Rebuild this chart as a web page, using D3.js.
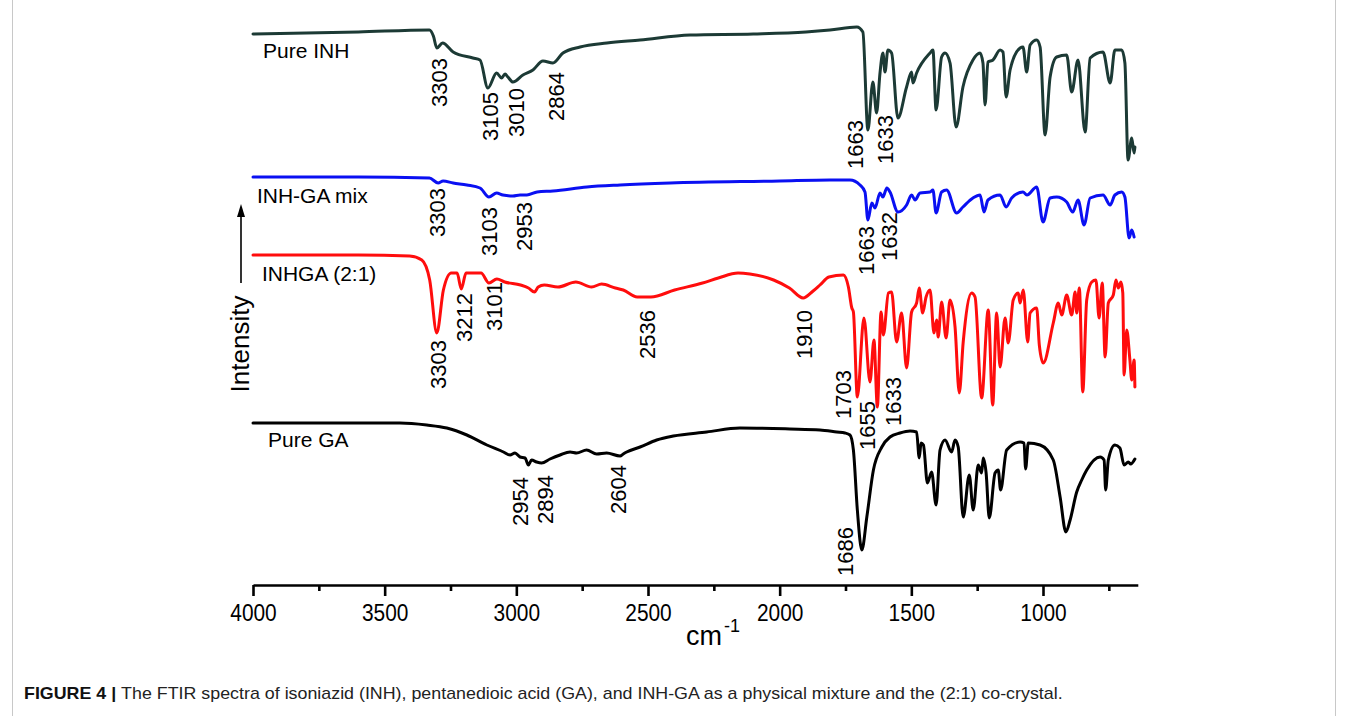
<!DOCTYPE html>
<html><head><meta charset="utf-8">
<script src="https://cdn.jsdelivr.net/npm/d3@7"></script>
<style>body{margin:0;background:#fff} svg{display:block} text{font-family:"Liberation Sans",Arial,Helvetica,sans-serif}</style>
</head><body>
<svg id="c" width="1348" height="716"></svg>
<script>
// ---------- DATA (wavenumber cm-1, stacked intensity a.u.) ----------
const inhPure = [[4000,551],[3600,553],[3330,555],[3315,549],[3302,537],[3280,542],[3240,533],[3165,527],[3138,525],[3108,497],[3075,512],[3056,507],[3043,511],[3032,508],[3013,503],[2975,510],[2937,515],[2899,524],[2861,522],[2823,532],[2758,538],[2656,542],[2530,545],[2340,550],[2100,551],[1900,553],[1809,555],[1707,558],[1684,553],[1665,455],[1646,503],[1632,472],[1619,512],[1608,532],[1600,513],[1589,535],[1575,532],[1551,467],[1518,498],[1499,513],[1494,502],[1480,512],[1429,532],[1418,535],[1406,475],[1385,528],[1372,532],[1353,522],[1330,458],[1304,498],[1266,525],[1239,532],[1228,522],[1220,480],[1209,523],[1190,525],[1163,535],[1152,533],[1140,488],[1125,515],[1087,537],[1076,538],[1062,513],[1049,540],[1024,545],[1011,538],[992,450],[973,508],[948,528],[910,530],[891,493],[867,525],[840,453],[821,527],[772,533],[745,502],[727,535],[701,535],[689,522],[677,425],[663,447],[654,432],[651,438]];

const inhGaMix = [[4000,408],[3600,408],[3330,407],[3297,402],[3278,404],[3240,402],[3188,400],[3138,397],[3104,388],[3075,392],[3051,390],[3013,389],[2986,390],[2960,390],[2921,393],[2861,394],[2732,398],[2606,400],[2416,402],[2000,404],[1809,405],[1733,405],[1695,400],[1676,393],[1665,365],[1650,382],[1638,377],[1619,392],[1608,388],[1593,397],[1581,393],[1551,373],[1518,380],[1499,390],[1486,385],[1467,392],[1429,393],[1418,395],[1406,372],[1385,393],[1366,395],[1328,372],[1304,378],[1266,387],[1239,390],[1224,373],[1209,385],[1163,390],[1140,378],[1119,387],[1076,393],[1061,390],[1024,398],[1000,363],[973,387],[948,388],[910,383],[887,373],[867,385],[844,360],[821,387],[772,390],[745,380],[727,390],[701,393],[689,388],[673,347],[663,355],[654,348]];

const inhga21 = [[4000,330],[3600,330],[3405,329],[3359,325],[3329,305],[3302,252],[3277,295],[3247,312],[3225,312],[3209,296],[3191,312],[3134,312],[3104,302],[3074,306],[3044,303],[2984,300],[2954,297],[2931,293],[2917,298],[2894,300],[2842,298],[2774,303],[2714,298],[2676,301],[2624,297],[2594,295],[2541,288],[2489,288],[2399,295],[2293,302],[2233,307],[2158,312],[2113,311],[2023,305],[1963,297],[1911,287],[1873,294],[1847,300],[1813,308],[1758,310],[1739,298],[1726,277],[1720,273],[1705,188],[1680,267],[1657,203],[1642,245],[1629,178],[1615,273],[1606,250],[1587,292],[1575,293],[1556,243],[1537,272],[1518,217],[1499,273],[1480,282],[1470,297],[1457,272],[1444,288],[1429,295],[1414,252],[1404,265],[1398,248],[1385,283],[1368,247],[1353,285],[1334,258],[1318,192],[1303,243],[1271,292],[1258,288],[1233,187],[1208,275],[1191,180],[1176,272],[1163,218],[1144,267],[1132,242],[1113,285],[1094,292],[1087,282],[1075,295],[1058,243],[1049,272],[1024,277],[1014,240],[999,222],[961,262],[942,282],[929,270],[910,290],[891,270],[878,293],[872,272],[862,297],[849,193],[834,285],[815,303],[799,305],[787,267],[775,302],[764,228],[752,282],[733,290],[723,305],[714,297],[704,303],[697,292],[692,210],[682,255],[670,225],[663,205],[654,225],[651,198]];

const gaPure = [[4000,162],[3442,162],[3340,160],[3264,157],[3188,150],[3112,140],[3049,133],[3024,130],[3005,132],[2986,128],[2967,127],[2954,120],[2942,125],[2923,123],[2904,122],[2872,126],[2834,130],[2796,133],[2771,132],[2733,135],[2695,131],[2657,132],[2606,129],[2594,131],[2581,133],[2530,138],[2467,145],[2404,149],[2277,153],[2151,157],[1961,156],[1847,155],[1783,153],[1752,152],[1733,150],[1720,135],[1705,75],[1688,35],[1669,68],[1644,115],[1612,138],[1581,148],[1543,152],[1505,154],[1480,153],[1470,127],[1463,142],[1454,140],[1439,102],[1423,113],[1406,80],[1391,135],[1372,145],[1347,133],[1334,145],[1322,138],[1303,68],[1280,110],[1265,75],[1246,120],[1233,112],[1227,127],[1216,112],[1204,67],[1182,112],[1170,115],[1161,95],[1138,135],[1087,143],[1072,142],[1066,116],[1056,142],[1011,140],[961,125],[935,88],[913,53],[897,65],[872,93],[853,105],[834,115],[783,128],[768,125],[762,95],[752,125],[727,140],[708,137],[692,120],[676,123],[667,121],[651,126]];

const seriesNames  = ["Pure INH","INH-GA mix","INHGA (2:1)","Pure GA"];
const seriesColors = ["#1c3a35","#0a10f2","#ff0d0d","#000000"];
// series name anchor: [wavenumber, intensity at baseline]
const seriesLabelAt = [[3962,527],[3985,382],[3966,304],[3943,138]];

// peak annotations: [series index, text, wavenumber of label centre, intensity at label top]
const peakLabels = [
  [0,"3303",3294,527],[0,"3105",3100,493],[0,"3010",3001,497],[0,"2864",2849,513],[0,"1663",1714,465],[0,"1633",1600,470],
  [1,"3303",3299,397],[1,"3103",3104,378],[1,"2953",2971,383],[1,"1663",1670,359],[1,"1632",1585,373],
  [2,"3303",3296,245],[2,"3212",3199,292],[2,"3101",3085,303],[2,"2536",2504,275],[2,"1910",1908,275],[2,"1703",1759,215],[2,"1655",1666,184],[2,"1633",1570,208],
  [3,"2954",2986,108],[3,"2894",2889,110],[3,"2604",2614,120],[3,"1686",1752,58]
];

const majorTicks = [4000,3500,3000,2500,2000,1500,1000];
const minorTicks = [3750,3250,2750,2250,1750,1250,750];
const xDomain = [4000,640];
const yDomain = [0,565];
const captionBold = "FIGURE 4 | ";
const captionText = "The FTIR spectra of isoniazid (INH), pentanedioic acid (GA), and INH-GA as a physical mixture and the (2:1) co-crystal.";

// ---------- DRAW ----------
const svg = d3.select("#c");
const x = d3.scaleLinear().domain(xDomain).range([253, 253 + 3360*0.263333]);
const y = d3.scaleLinear().domain(yDomain).range([585, 20]);

// frame lines
svg.append("line").attr("x1",12.5).attr("x2",12.5).attr("y1",0).attr("y2",716).attr("stroke","#c8c8c8").attr("stroke-width",1);
svg.append("line").attr("x1",1335.5).attr("x2",1335.5).attr("y1",0).attr("y2",716).attr("stroke","#c8c8c8").attr("stroke-width",1);

const series = [inhPure, inhGaMix, inhga21, gaPure];
const line = d3.line().x(d=>x(d[0])).y(d=>y(d[1])).curve(d3.curveMonotoneX);
series.forEach((s,i)=>{
  svg.append("path").datum(s).attr("d",line).attr("fill","none")
    .attr("stroke",seriesColors[i]).attr("stroke-width",3).attr("stroke-linejoin","round").attr("stroke-linecap","round");
  svg.append("text").attr("x",x(seriesLabelAt[i][0])).attr("y",y(seriesLabelAt[i][1]))
    .style("font-size","21px").attr("fill","#000").text(seriesNames[i]);
});

// peak labels
svg.selectAll("text.pk").data(peakLabels).enter().append("text").attr("class","pk")
  .attr("transform",d=>`translate(${x(d[2])},${y(d[3])}) rotate(-90)`)
  .attr("text-anchor","end").attr("dy","0.35em").style("font-size","22px").attr("fill","#000")
  .text(d=>d[1]);

// x axis
const gx = svg.append("g").attr("transform",`translate(0,${y(0)})`);
gx.call(d3.axisBottom(x).tickValues(majorTicks).tickSize(11).tickSizeOuter(0).tickPadding(8).tickFormat(d3.format("d")));
const gm = svg.append("g").attr("transform",`translate(0,${y(0)})`);
gm.call(d3.axisBottom(x).tickValues(minorTicks).tickSize(6).tickSizeOuter(0).tickFormat(""));
gm.select(".domain").remove();
[gx,gm].forEach(g=>{
  g.selectAll("path.domain").attr("stroke","#000").attr("stroke-width",2.6);
  g.selectAll(".tick line").attr("stroke","#000").attr("stroke-width",2.6);
});
gx.selectAll(".tick text").style("font-size","24px").attr("fill","#000")
  .attr("font-family",null).attr("transform","scale(0.87,1)");
gx.selectAll(".tick").each(function(){ d3.select(this).select("text").attr("x",0); });

// axis title
const xt = svg.append("text").attr("x",686).attr("y",645).attr("fill","#000");
xt.append("tspan").style("font-size","27px").text("cm");
xt.append("tspan").style("font-size","18px").attr("dy","-13").attr("dx","2").text("-1");

// y axis arrow & title
svg.append("line").attr("x1",241).attr("x2",241).attr("y1",283).attr("y2",214).attr("stroke","#000").attr("stroke-width",1.6);
svg.append("path").attr("d","M241,204 L245,217 L237,217 Z").attr("fill","#000");
svg.append("text").attr("transform","translate(242,344) rotate(-90)").attr("text-anchor","middle")
  .attr("dy","0.25em").style("font-size","26px").attr("fill","#000").text("Intensity");

// caption
const cap = svg.append("text").attr("x",24).attr("y",699).attr("fill","#222").style("font-size","16px");
cap.append("tspan").style("font-weight","bold").attr("fill","#111").text(captionBold);
cap.append("tspan").text(captionText);
const len = cap.node().getComputedTextLength();
const sx = 1039/len;
cap.attr("transform",`translate(24,0) scale(${sx},1) translate(-24,0)`);
</script>
</body></html>
